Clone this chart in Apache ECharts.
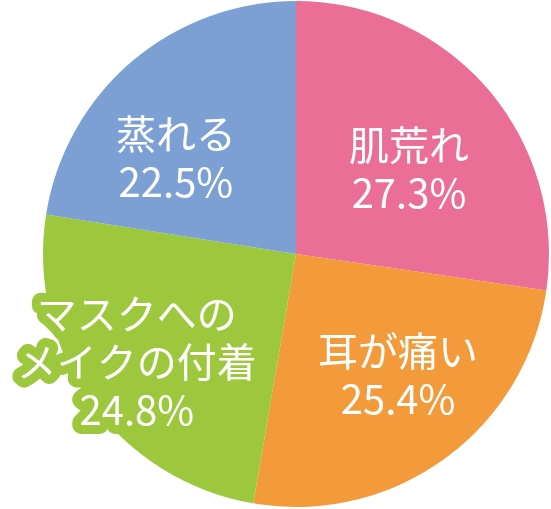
<!DOCTYPE html>
<html>
<head>
<meta charset="utf-8">
<script src="https://cdn.jsdelivr.net/npm/echarts@6/dist/echarts.min.js"></script>
<style>
  html, body { margin: 0; padding: 0; background: #ffffff; }
  #chart { width: 551px; height: 509px; }
</style>
</head>
<body>
<div id="chart"></div>
<script>
// Survey answers: troubles caused by wearing a mask
const categories = ['肌荒れ', '耳が痛い', 'マスクへの\nメイクの付着', '蒸れる'];
const shares = [27.3, 25.4, 24.8, 22.5];
const sliceColors = ['#ea6e96', '#f39a3b', '#9dc83d', '#7ca0d4'];
// per-slice nudges for the inside labels
const labelOffsets = [[15, 0], [26, 16], [-54, 32], [-36, 2]];

const chart = echarts.init(document.getElementById('chart'), null, { renderer: 'canvas' });

const data = categories.map((name, i) => {
  const item = {
    name: name,
    value: shares[i],
    itemStyle: { color: sliceColors[i] },
    label: { offset: labelOffsets[i] }
  };
  if (i === 2) {
    // the long green label spills past the edge, so give it a halo
    item.label.textBorderColor = sliceColors[i];
    item.label.textBorderWidth = 18;
  }
  return item;
});

chart.setOption({
  animation: false,
  series: [{
    type: 'pie',
    center: [296, 254],
    radius: [0, 253],
    startAngle: 90,
    clockwise: true,
    avoidLabelOverlap: false,
    itemStyle: { borderWidth: 0 },
    label: {
      show: true,
      position: 'inside',
      formatter: p => p.name + '\n' + p.value.toFixed(1) + '%',
      color: '#ffffff',
      fontFamily: '"Noto Sans CJK JP", "Noto Sans", sans-serif',
      fontSize: 40,
      lineHeight: 48,
      align: 'center',
      textBorderWidth: 0
    },
    labelLine: { show: false },
    emphasis: { disabled: true },
    data: data
  }]
});

// round off the halo stroke corners so the outline looks soft
const zr = chart.getZr();
zr.storage.getDisplayList(true).forEach(el => {
  if (el.type === 'tspan' && el.style && el.style.stroke) {
    el.style.lineJoin = 'round';
    el.style.lineCap = 'round';
    el.dirty();
  }
});
zr.refreshImmediately();
</script>
</body>
</html>
